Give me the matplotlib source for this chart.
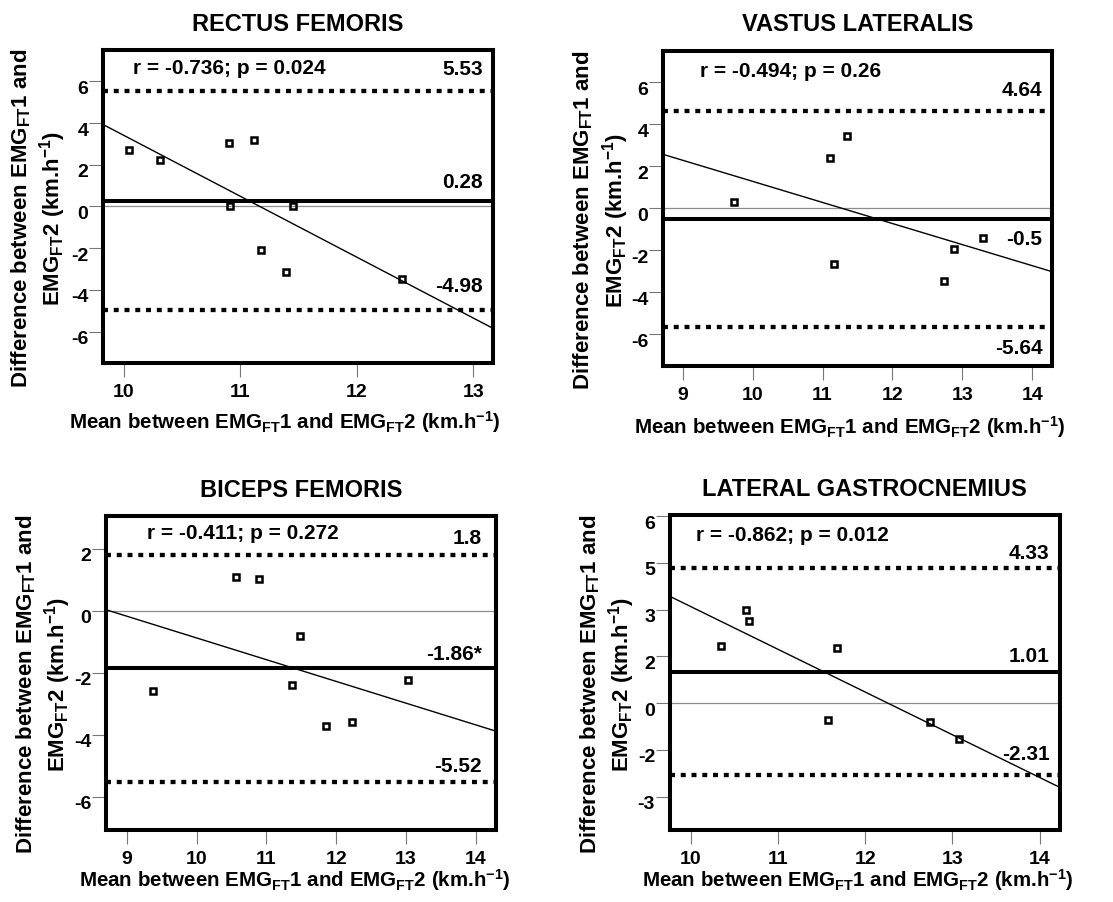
import matplotlib
matplotlib.use('Agg')
import matplotlib.pyplot as plt
from matplotlib.transforms import ScaledTranslation

plt.rcParams['font.family'] = 'Liberation Sans'
plt.rcParams['font.weight'] = 'bold'
plt.rcParams['axes.unicode_minus'] = False
plt.rcParams['mathtext.fontset'] = 'custom'
plt.rcParams['mathtext.rm'] = 'Liberation Sans:bold'
plt.rcParams['mathtext.bf'] = 'Liberation Sans:bold'
plt.rcParams['mathtext.it'] = 'Liberation Sans:bold'

# data
titles = ['RECTUS FEMORIS', 'VASTUS LATERALIS', 'BICEPS FEMORIS', 'LATERAL GASTROCNEMIUS']
stats_txt = ['r = -0.736; p = 0.024', 'r = -0.494; p = 0.26',
             'r = -0.411; p = 0.272', 'r = -0.862; p = 0.012']

rf_mean = [10.04, 10.31, 10.90, 11.12, 10.91, 11.45, 11.18, 11.39, 12.39]
rf_diff = [2.69, 2.25, 3.05, 3.20, 0.0, 0.0, -2.08, -3.15, -3.50]
vl_mean = [9.74, 11.10, 11.35, 11.16, 12.74, 12.88, 13.30]
vl_diff = [0.30, 2.41, 3.44, -2.67, -3.46, -1.95, -1.43]
bf_mean = [9.38, 10.56, 10.90, 11.48, 11.37, 11.86, 12.23, 13.03]
bf_diff = [-2.59, 1.08, 1.02, -0.82, -2.41, -3.73, -3.59, -2.25]
lg_mean = [10.35, 10.63, 10.67, 11.68, 11.57, 12.74, 13.08]
lg_diff = [1.84, 2.99, 2.63, 1.78, -0.55, -0.62, -1.16]

# regression line ends (x, y)
fit_x = [[9.82, 13.17], [8.72, 14.28], [8.70, 14.29], [9.76, 14.23]]
fit_y = [[3.93, -5.84], [2.57, -3.02], [0.03, -3.89], [3.43, -2.70]]

bias = [0.28, -0.5, -1.86, 1.01]
upper = [5.53, 4.64, 1.8, 4.33]
lower = [-4.98, -5.64, -5.52, -2.31]
bias_lbl = ['0.28', '-0.5', '-1.86*', '1.01']

xticks = [[10, 11, 12, 13], [9, 10, 11, 12, 13, 14], [9, 10, 11, 12, 13, 14], [10, 11, 12, 13, 14]]
yticks = [[-6, -4, -2, 0, 2, 4, 6], [-6, -4, -2, 0, 2, 4, 6], [-6, -4, -2, 0, 2],
          [-3, -1.5, 0, 1.5, 3, 4.5, 6]]
ytick_lbl = [None, None, None, ['-3', '-2', '0', '2', '3', '5', '6']]

# layout
rects = [[0.0925, 0.5976, 0.3504, 0.347], [0.5957, 0.5946, 0.3495, 0.349],
         [0.0952, 0.0798, 0.3504, 0.348], [0.6017, 0.0798, 0.3504, 0.349]]
xlims = [(9.82, 13.17), (8.72, 14.28), (8.70, 14.29), (9.76, 14.23)]
ylims = [(-7.5, 7.5), (-7.5, 7.5), (-7.08, 3.05), (-4.07, 6.03)]
lbl_off = [[22, 18, 24], [20, -21, -22], [16, 14, 15], [15, 15, 21]]  # px, up is +
lbl_x = [0.975, 0.975, 0.963, 0.974]
stat_pos = [(0.077, 0.94), (0.094, 0.933), (0.104, 0.945), (0.067, 0.937)]
xlab_pos = [(0.467, -0.19), (0.48, -0.194), (0.485, -0.159), (0.483, -0.159)]
ylab_x = [-0.089, -0.083, -0.084, -0.084]

means = [rf_mean, vl_mean, bf_mean, lg_mean]
diffs = [rf_diff, vl_diff, bf_diff, lg_diff]

xlab = r'Mean between EMG$_{\mathrm{FT}}$1 and EMG$_{\mathrm{FT}}$2 (km.h$^{\mathrm{-1}}$)'
ylab = 'Difference between EMG$_{\\mathrm{FT}}$1 and\nEMG$_{\\mathrm{FT}}$2 (km.h$^{\\mathrm{-1}}$)'

fig = plt.figure(figsize=(11.13, 9.02), dpi=100)
shift_down = ScaledTranslation(0, -6 / 100, fig.dpi_scale_trans)

for i in range(4):
    ax = fig.add_axes(rects[i])
    ax.axhline(0, color='#8c8c8c', lw=0.9, zorder=1)
    ax.axhline(bias[i], color='black', lw=2.9, zorder=2)
    for v in (upper[i], lower[i]):
        ax.axhline(v, color='black', lw=3.1, ls=(0, (1.15, 1.35)), dash_capstyle='butt', zorder=2)
    ax.plot(fit_x[i], fit_y[i], color='black', lw=1.0, zorder=3)
    ax.plot(means[i], diffs[i], 's', mfc='none', mec='black', ms=4.0, mew=1.8, zorder=4)

    for v, t, off in zip([upper[i], bias[i], lower[i]],
                         ['%g' % upper[i], bias_lbl[i], '%g' % lower[i]], lbl_off[i]):
        ax.annotate(t, xy=(lbl_x[i], v), xycoords=('axes fraction', 'data'),
                    xytext=(0, off), textcoords='offset pixels',
                    ha='right', va='center', fontsize=15, fontweight='bold')
    ax.text(stat_pos[i][0], stat_pos[i][1], stats_txt[i], transform=ax.transAxes,
            ha='left', va='center', fontsize=15, fontweight='bold')

    ax.set_xlim(xlims[i])
    ax.set_ylim(ylims[i])
    ax.set_xticks(xticks[i])
    ax.set_yticks(yticks[i])
    if ytick_lbl[i]:
        ax.set_yticklabels(ytick_lbl[i])
    ax.tick_params(axis='both', direction='out', length=10, width=0.8, color='#777777',
                   labelsize=14)
    ax.tick_params(axis='x', pad=5)
    ax.tick_params(axis='y', pad=0.5)
    for s in ax.spines.values():
        s.set_linewidth(2.9)
    for tk in ax.yaxis.get_major_ticks():
        tk.label1.set_transform(tk.label1.get_transform() + shift_down)

    ax.set_title(titles[i], fontsize=17, fontweight='bold', pad=14)
    ax.set_xlabel(xlab, fontsize=14.8, fontweight='bold', va='center')
    ax.xaxis.set_label_coords(*xlab_pos[i])
    ax.set_ylabel(ylab, fontsize=16, fontweight='bold', linespacing=1.2)
    ax.yaxis.set_label_coords(ylab_x[i], 0.463)

fig.savefig('out.png', dpi=100)
